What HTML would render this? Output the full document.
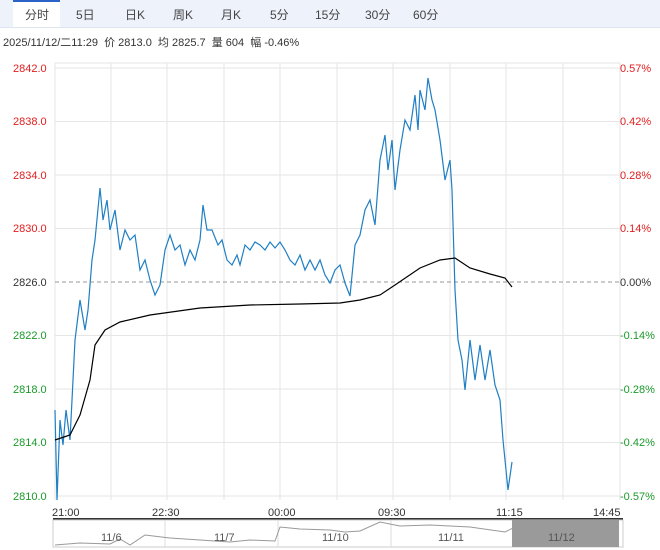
<!DOCTYPE html>
<html><head><meta charset="utf-8"><style>
body{margin:0;width:660px;height:550px;background:#fff;font-family:"Liberation Sans","Noto Sans CJK SC",sans-serif;overflow:hidden;position:relative}
.tabs{position:absolute;left:0;top:0;width:660px;height:27px;background:#eef3fb;border-bottom:1px solid #dde5f0}
.tab{position:absolute;top:6px;font-size:12px;color:#444}
.act{position:absolute;left:13px;top:0;width:47px;height:27px;background:#fff;border-top:2px solid #2a62c9;box-sizing:border-box}
.info{position:absolute;left:3px;top:34px;font-size:11px;color:#333;white-space:nowrap}
</style></head><body>
<div class="tabs"><div class="act"></div>
<span class="tab" style="left:25px">分时</span><span class="tab" style="left:76px">5日</span><span class="tab" style="left:125px">日K</span><span class="tab" style="left:173px">周K</span><span class="tab" style="left:221px">月K</span><span class="tab" style="left:270px">5分</span><span class="tab" style="left:315px">15分</span><span class="tab" style="left:365px">30分</span><span class="tab" style="left:413px">60分</span></div>
<div class="info">2025/11/12/二11:29 &nbsp;价 2813.0 &nbsp;均 2825.7 &nbsp;量 604 &nbsp;幅 -0.46%</div>
<svg width="660" height="550" style="position:absolute;left:0;top:0" font-family="Liberation Sans, sans-serif" font-size="11">
<g stroke="#e6e6e6" stroke-width="1">
<line x1="55" y1="63" x2="620" y2="63"/>
<line x1="55" y1="68" x2="620" y2="68"/><line x1="55" y1="121.5" x2="620" y2="121.5"/><line x1="55" y1="175" x2="620" y2="175"/><line x1="55" y1="228.5" x2="620" y2="228.5"/><line x1="55" y1="335.5" x2="620" y2="335.5"/><line x1="55" y1="389" x2="620" y2="389"/><line x1="55" y1="442.5" x2="620" y2="442.5"/><line x1="55" y1="496" x2="620" y2="496"/>
<line x1="55" y1="63" x2="55" y2="500"/><line x1="111" y1="63" x2="111" y2="500"/><line x1="167" y1="63" x2="167" y2="500"/><line x1="224" y1="63" x2="224" y2="500"/><line x1="280" y1="63" x2="280" y2="500"/><line x1="337" y1="63" x2="337" y2="500"/><line x1="393" y1="63" x2="393" y2="500"/><line x1="450" y1="63" x2="450" y2="500"/><line x1="506" y1="63" x2="506" y2="500"/><line x1="563" y1="63" x2="563" y2="500"/><line x1="620" y1="63" x2="620" y2="500"/>
</g>
<line x1="55" y1="282" x2="620" y2="282" stroke="#999" stroke-dasharray="4,3"/>
<g fill="#e02020"><text x="13" y="72">2842.0</text><text x="13" y="125">2838.0</text><text x="13" y="179">2834.0</text><text x="13" y="232">2830.0</text>
<text x="620" y="72">0.57%</text><text x="620" y="125">0.42%</text><text x="620" y="179">0.28%</text><text x="620" y="232">0.14%</text></g>
<text x="13" y="286" fill="#333">2826.0</text><text x="620" y="286" fill="#333">0.00%</text>
<g fill="#1a9a2a"><text x="13" y="339">2822.0</text><text x="13" y="393">2818.0</text><text x="13" y="446">2814.0</text><text x="13" y="500">2810.0</text>
<text x="620" y="339">-0.14%</text><text x="620" y="393">-0.28%</text><text x="620" y="446">-0.42%</text><text x="620" y="500">-0.57%</text></g>
<polyline fill="none" stroke="#1f7fc4" stroke-width="1.2" points="55,410 57,500 60,420 63,445 66,410 70,440 75,340 80,300 85,330 88,310 92,260 95,240 100,188 103,220 107,200 110,230 115,210 120,250 125,230 130,240 135,235 140,270 145,260 150,280 155,295 160,285 165,250 170,235 175,250 180,245 185,265 190,250 195,260 200,240 203,205 207,230 212,230 218,245 222,240 227,260 232,265 237,255 240,265 245,245 250,250 255,242 260,245 265,250 270,242 275,248 280,242 285,250 290,260 295,265 300,255 305,270 310,260 315,270 320,260 325,275 330,283 335,270 340,265 345,283 350,296 355,245 360,235 365,210 370,200 375,225 380,160 385,135 388,170 392,140 395,190 400,150 405,120 410,130 415,95 418,130 420,90 425,110 428,78 432,100 435,110 440,140 445,180 450,160 452,190 455,290 458,340 462,360 465,390 470,340 475,380 480,345 485,380 490,350 495,385 500,400 503,440 505,460 508,490 512,462"/>
<polyline fill="none" stroke="#000" stroke-width="1.2" points="55,440 70,435 80,415 90,380 95,345 105,330 120,322 150,315 200,308 250,305 300,304 340,303 360,300 380,295 395,285 420,268 440,260 455,258 470,268 490,274 505,278 512,287"/>
<g fill="#333"><text x="52" y="516">21:00</text><text x="152" y="516">22:30</text><text x="268" y="516">00:00</text><text x="378" y="516">09:30</text><text x="496" y="516">11:15</text><text x="593" y="516">14:45</text></g>
<rect x="53" y="518" width="570" height="2.5" fill="#333"/>
<rect x="53" y="520" width="570" height="27" fill="#fff" stroke="#ccc"/>
<rect x="512" y="520" width="107" height="27" fill="#9a9a9a"/>
<g stroke="#ddd"><line x1="165" y1="520" x2="165" y2="547"/><line x1="278" y1="520" x2="278" y2="547"/><line x1="391" y1="520" x2="391" y2="547"/></g>
<polyline fill="none" stroke="#999" points="55,545 80,543 110,544 120,539 130,545 145,535 170,538 200,540 230,542 250,540 275,541 280,527 300,529 330,530 345,532 360,531 380,522 400,526 430,525 470,527 505,532 515,527 550,527 570,525 585,522 595,530"/>
<g fill="#555" font-size="11"><text x="101" y="541">11/6</text><text x="214" y="541">11/7</text><text x="322" y="541">11/10</text><text x="438" y="541">11/11</text><text x="548" y="541">11/12</text></g>
</svg>
</body></html>
